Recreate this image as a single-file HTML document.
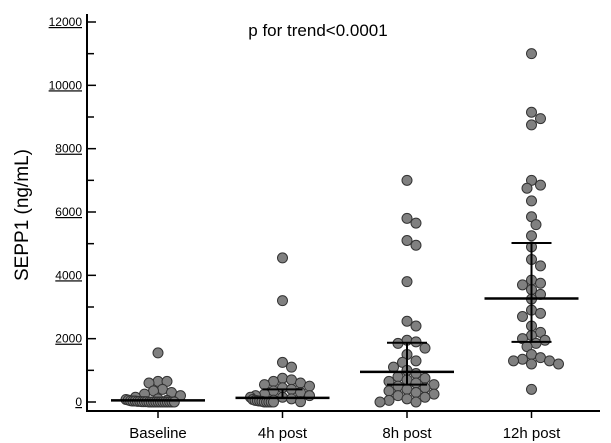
<!DOCTYPE html>
<html><head><meta charset="utf-8"><style>
body{margin:0;background:#fff}
svg{display:block;font-family:"Liberation Sans",Arial,sans-serif}
</style></head><body>
<svg id="c" width="611" height="443">
<text x="318" y="36" font-size="17" text-anchor="middle">p for trend&lt;0.0001</text>
<text transform="translate(28,215) rotate(-90)" font-size="19" text-anchor="middle">SEPP1 (ng/mL)</text>
</svg>
<script>
const categories=["Baseline","4h post","8h post","12h post"];
const baselineVals=[1550,650,650,600,400,350,300,250,200,150,100,80,60,50,40,30,30,20,20,10,10,10,0,0,0,0,0,0,0,0,0,0,0,0];
const h4Vals=[4550,3200,1250,1100,750,700,650,600,550,500,450,400,350,300,250,200,200,150,150,100,80,60,50,40,30,20,10,0,0,0,0,0];
const h8Vals=[7000,5800,5650,5100,4950,3800,2550,2400,1950,1900,1850,1700,1500,1300,1250,1100,1000,900,800,750,700,650,600,550,500,450,400,350,300,250,200,150,100,50,0,0];
const h12Vals=[11000,9150,8950,8750,7000,6850,6750,6350,5850,5600,5250,4900,4500,4300,3850,3750,3700,3550,3400,3250,2900,2800,2700,2400,2200,2100,2000,1950,1850,1750,1500,1400,1350,1300,1300,1200,1200,400];
const medians=[50,130,950,3270];
const q1s=[null,null,550,1900];
const q3s=[null,400,1870,5020];
const yTicks=[0,2000,4000,6000,8000,10000,12000];
const series=[baselineVals,h4Vals,h8Vals,h12Vals];

const svg=document.getElementById('c');
const NS='http://www.w3.org/2000/svg';
const y=v=>402-v*(380/12000);
const xc=i=>158+i*124.5;
function el(t,a){const e=document.createElementNS(NS,t);for(const k in a)e.setAttribute(k,a[k]);svg.appendChild(e);return e;}

let ax=el('line',{x1:87,y1:14,x2:87,y2:412,stroke:'#000','stroke-width':2});


let bx=el('line',{x1:86,y1:411,x2:600,y2:411,stroke:'#000','stroke-width':2});


for(let v=0;v<=12000;v+=1000){
  const t=el('line',{x1:87,x2:v%2000===0?96:94,y1:y(v),y2:y(v),stroke:'#000','stroke-width':1.5});
  
  
}
yTicks.forEach(v=>{
  const t=el('text',{x:82,y:y(v)+4,'font-size':12,'text-anchor':'end','text-decoration':'underline'});
  t.textContent=v;
  
  
});
categories.forEach((c,i)=>{
  const t=el('line',{x1:xc(i),x2:xc(i),y1:411,y2:418,stroke:'#000','stroke-width':1.5});
  
  
  const l=el('text',{x:xc(i),y:438,'font-size':15,'text-anchor':'middle'});
  l.textContent=c;
  
  
});
const R=5;
series.forEach((vals,i)=>{
  const placed=[];let over=0;
  [...vals].sort((a,b)=>b-a).forEach(v=>{
    const py=y(v);let dx=null;
    for(let k=0;k<13;k++){
      const cand=k===0?0:(k%2?1:-1)*Math.ceil(k/2)*4.5;
      if(placed.every(p=>Math.hypot(p[0]-cand,p[1]-py)>=2*R-1)){dx=cand;break;}
    }
    if(dx===null){dx=-32+(over*2.3)%64;over++;}
    placed.push([dx,py]);
    const c=el('circle',{cx:xc(i)+dx,cy:py,r:R,fill:'#808080',stroke:'#333','stroke-width':1});
    
    
  });
});
series.forEach((vals,i)=>{
  const x=xc(i);
  const m=el('line',{x1:x-47,x2:x+47,y1:y(medians[i]),y2:y(medians[i]),stroke:'#000','stroke-width':2.5});
  
  
  const lo=q1s[i]===null?medians[i]:q1s[i];
  if(q3s[i]!==null){
    const v=el('line',{x1:x,x2:x,y1:y(q3s[i]),y2:y(lo),stroke:'#000','stroke-width':2});
    
    
    const u=el('line',{x1:x-20,x2:x+20,y1:y(q3s[i]),y2:y(q3s[i]),stroke:'#000','stroke-width':2});
    
    
  }
  if(q1s[i]!==null){
    const d=el('line',{x1:x-20,x2:x+20,y1:y(q1s[i]),y2:y(q1s[i]),stroke:'#000','stroke-width':2});
    
    
  }
});
</script>
</body></html>
